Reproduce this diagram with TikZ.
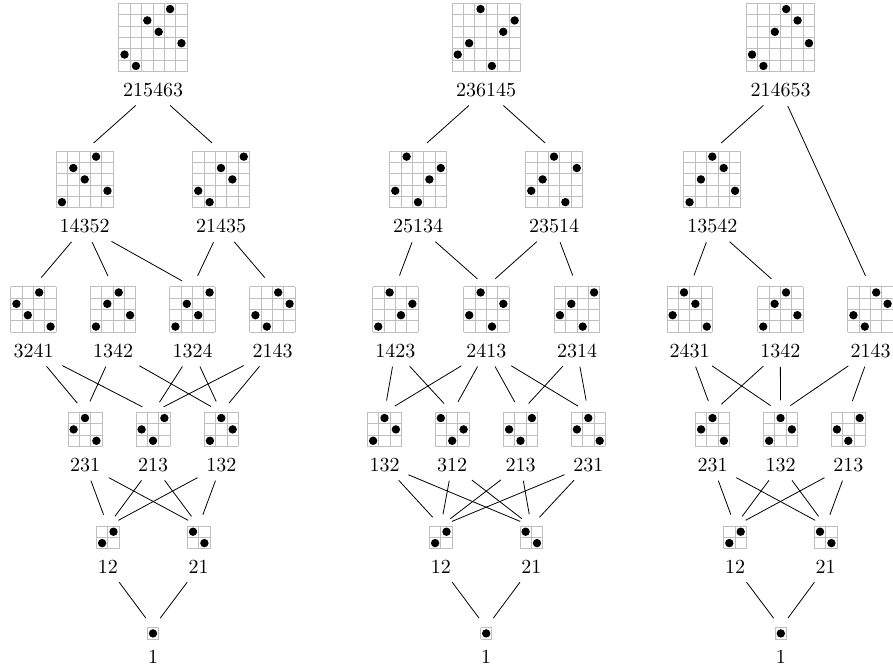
\documentclass[tikz,border=0pt]{standalone}
\usetikzlibrary{positioning}

\def\cellsize{0.2cm}
% grid of a permutation, centred at #2, with its label below
\newcommand{\permnode}[3]{%
  \def\permlab{}%
  \foreach \v [count=\i] in {#3} {\xdef\permlab{\permlab\v}\xdef\permn{\i}}%
  \begin{scope}[shift={#2}, x=\cellsize, y=\cellsize, shift={(-\permn/2,-\permn/2)}]
    \foreach \k in {0,...,\permn} {
      \draw[permgrid] (\k,0) -- (\k,\permn);
      \draw[permgrid] (0,\k) -- (\permn,\k);
    }
    \foreach \v [count=\i] in {#3}
      \fill (\i-0.5,\v-0.5) circle (2.1pt);
    \node[permbox, minimum size=\permn*\cellsize] (#1) at (\permn/2,\permn/2) {};
    \node[permlabel, below=2.2pt of #1] (l#1) {\permlab};
  \end{scope}}

\begin{document}
\begin{tikzpicture}[x=0.5pt, y=-0.5pt,
    permgrid/.style={draw=black!25, line width=0.4pt},
    permbox/.style={inner sep=0pt, outer sep=0pt},
    permlabel/.style={inner sep=0.333em}]
  \useasboundingbox (0,0) rectangle (893,671);

  % first poset
  \permnode{a215463}{(153,37.5)}{2,1,5,4,6,3}
  \permnode{a14352}{(84.7,179.4)}{1,4,3,5,2}
  \permnode{a21435}{(221,179.4)}{2,1,4,3,5}
  \permnode{a3241}{(33.5,309.5)}{3,2,4,1}
  \permnode{a1342}{(113,309.5)}{1,3,4,2}
  \permnode{a1324}{(192.5,309.5)}{1,3,2,4}
  \permnode{a2143}{(272.5,309.5)}{2,1,4,3}
  \permnode{a231}{(85,429.4)}{2,3,1}
  \permnode{a213}{(153,429.4)}{2,1,3}
  \permnode{a132}{(221.3,429.4)}{1,3,2}
  \permnode{a12}{(107.8,537.4)}{1,2}
  \permnode{a21}{(198.7,537.4)}{2,1}
  \permnode{a1}{(153,633.4)}{1}

  % second poset
  \permnode{b236145}{(486.2,37.5)}{2,3,6,1,4,5}
  \permnode{b25134}{(418,179.4)}{2,5,1,3,4}
  \permnode{b23514}{(554,179.4)}{2,3,5,1,4}
  \permnode{b1423}{(395.3,309.5)}{1,4,2,3}
  \permnode{b2413}{(486.3,309.5)}{2,4,1,3}
  \permnode{b2314}{(577,309.5)}{2,3,1,4}
  \permnode{b132}{(384.5,429.4)}{1,3,2}
  \permnode{b312}{(452.2,429.4)}{3,1,2}
  \permnode{b213}{(520.5,429.4)}{2,1,3}
  \permnode{b231}{(588.3,429.4)}{2,3,1}
  \permnode{b12}{(440.8,537.4)}{1,2}
  \permnode{b21}{(531.3,537.4)}{2,1}
  \permnode{b1}{(486.2,633.4)}{1}

  % third poset
  \permnode{c214653}{(780.5,37.5)}{2,1,4,6,5,3}
  \permnode{c13542}{(712.3,179.4)}{1,3,5,4,2}
  \permnode{c2431}{(689.7,309.5)}{2,4,3,1}
  \permnode{c1342}{(780.3,309.5)}{1,3,4,2}
  \permnode{c2143}{(870.5,309.5)}{2,1,4,3}
  \permnode{c231}{(712.5,429.4)}{2,3,1}
  \permnode{c132}{(780.5,429.4)}{1,3,2}
  \permnode{c213}{(848.3,429.4)}{2,1,3}
  \permnode{c12}{(735,537.4)}{1,2}
  \permnode{c21}{(825.7,537.4)}{2,1}
  \permnode{c1}{(780.8,633.4)}{1}

  \begin{scope}[-, shorten <=1pt, shorten >=6pt]
    \draw (la215463) to (a14352.north);
    \draw (la215463) to (a21435.north);
    \draw (la14352) to (a3241.north);
    \draw (la14352) to (a1342.north);
    \draw (la14352) to (a1324.north);
    \draw (la21435) to (a1324.north);
    \draw (la21435) to (a2143.north);
    \draw (la3241) to (a231.north);
    \draw (la3241) to (a213.north);
    \draw (la1342) to (a231.north);
    \draw (la1342) to (a132.north);
    \draw (la1324) to (a213.north);
    \draw (la1324) to (a132.north);
    \draw (la2143) to (a213.north);
    \draw (la2143) to (a132.north);
    \draw (la231) to (a12.north);
    \draw (la231) to (a21.north);
    \draw (la213) to (a12.north);
    \draw (la213) to (a21.north);
    \draw (la132) to (a12.north);
    \draw (la132) to (a21.north);
    \draw (la12) to (a1.north);
    \draw (la21) to (a1.north);

    \draw (lb236145) to (b25134.north);
    \draw (lb236145) to (b23514.north);
    \draw (lb25134) to (b1423.north);
    \draw (lb25134) to (b2413.north);
    \draw (lb23514) to (b2413.north);
    \draw (lb23514) to (b2314.north);
    \draw (lb1423) to (b132.north);
    \draw (lb1423) to (b312.north);
    \draw (lb2413) to (b132.north);
    \draw (lb2413) to (b312.north);
    \draw (lb2413) to (b213.north);
    \draw (lb2413) to (b231.north);
    \draw (lb2314) to (b213.north);
    \draw (lb2314) to (b231.north);
    \draw (lb132) to (b12.north);
    \draw (lb132) to (b21.north);
    \draw (lb312) to (b12.north);
    \draw (lb312) to (b21.north);
    \draw (lb213) to (b12.north);
    \draw (lb213) to (b21.north);
    \draw (lb231) to (b12.north);
    \draw (lb231) to (b21.north);
    \draw (lb12) to (b1.north);
    \draw (lb21) to (b1.north);

    \draw (lc214653) to (c13542.north);
    \draw (lc214653) to (c2143.north);
    \draw (lc13542) to (c2431.north);
    \draw (lc13542) to (c1342.north);
    \draw (lc2431) to (c231.north);
    \draw (lc2431) to (c132.north);
    \draw (lc1342) to (c231.north);
    \draw (lc1342) to (c132.north);
    \draw (lc2143) to (c132.north);
    \draw (lc2143) to (c213.north);
    \draw (lc231) to (c12.north);
    \draw (lc231) to (c21.north);
    \draw (lc132) to (c12.north);
    \draw (lc132) to (c21.north);
    \draw (lc213) to (c12.north);
    \draw (lc213) to (c21.north);
    \draw (lc12) to (c1.north);
    \draw (lc21) to (c1.north);
  \end{scope}
\end{tikzpicture}
\end{document}
